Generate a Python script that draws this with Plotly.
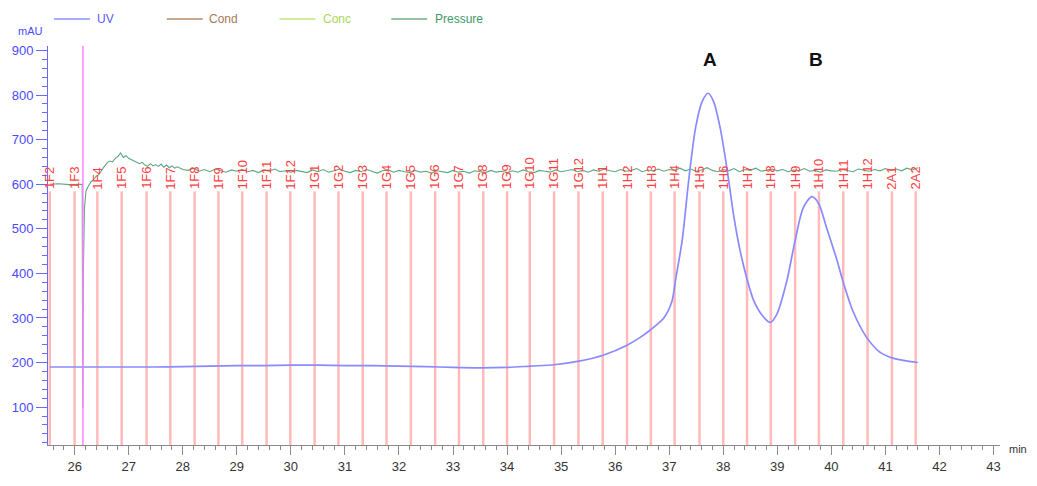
import numpy as np
import plotly.graph_objects as go

# ---------------- data ----------------
uv_time = [25.54, 26.0, 26.5, 27.0, 27.5, 28.0, 28.5, 29.0, 29.5, 30.0, 30.5, 31.0, 31.5, 32.0,
           32.5, 33.0, 33.5, 34.0, 34.44, 34.87, 35.33, 35.79, 36.22, 36.47, 36.65, 36.90,
           37.05, 37.12, 37.24, 37.37, 37.49, 37.61, 37.72, 37.82, 37.94, 38.07, 38.19, 38.31,
           38.44, 38.56, 38.72, 38.87, 38.99, 39.17, 39.33, 39.48, 39.64, 39.76, 39.91, 40.10,
           40.22, 40.40, 40.65, 40.89, 41.14, 41.60]
uv_mau = [190, 190, 190, 190, 190, 191, 192, 193, 193, 194, 194, 193, 193, 192,
          191, 189, 188, 189, 192, 195, 203, 217, 239, 257, 273, 300,
          337, 387, 474, 619, 728, 786, 804, 786, 728, 634, 532, 452,
          387, 340, 306, 290, 308, 380, 474, 547, 572, 558, 503, 431,
          380, 315, 257, 224, 210, 200]

press_time_a = [25.54, 25.7, 25.9, 26.1, 26.14, 26.15, 26.16, 26.18, 26.21, 26.25, 26.3, 26.35,
                26.4, 26.45, 26.5, 26.55, 26.6, 26.65, 26.7, 26.75, 26.8, 26.85, 26.9, 26.95,
                27.0, 27.05, 27.1, 27.15, 27.2, 27.25, 27.3, 27.35, 27.4, 27.45, 27.5, 27.55,
                27.6, 27.65, 27.7, 27.75, 27.8, 27.85, 27.9, 28.0]
press_val_a = [600, 601, 599, 600, 600, 97, 390, 545, 585, 595, 605, 610,
               618, 622, 632, 640, 648, 652, 650, 658, 662, 670, 660, 664,
               658, 655, 652, 650, 646, 649, 643, 640, 646, 641, 644, 640,
               645, 638, 643, 637, 641, 636, 639, 633]
# sampled every 0.1 min from 28.1 to 41.6
press_start, press_step = 28.1, 0.1
press_val_b = [631, 636, 629, 633, 628, 634, 630, 627, 632, 629,
               633, 628, 631, 626, 632, 629, 634, 628, 630, 627,
               631, 629, 626, 632, 628, 633, 627, 630, 634, 629,
               626, 631, 628, 633, 629, 625, 630, 632, 627, 631,
               628, 626, 631, 627, 629, 625, 630, 628, 626, 631,
               627, 629, 625, 630, 628, 626, 631, 627, 629, 626,
               630, 627, 632, 628, 626, 631, 629, 627, 632, 628,
               630, 633, 628, 631, 627, 632, 629, 634, 630, 628,
               633, 629, 631, 635, 628, 632, 630, 634, 629, 633,
               631, 636, 630, 634, 629, 632, 637, 631, 628, 633,
               630, 635, 628, 633, 631, 636, 629, 632, 634, 630,
               633, 628, 632, 630, 635, 629, 631, 627, 632, 630,
               629, 633, 630, 628, 634, 631, 629, 633, 630, 635,
               631, 634, 630, 636, 632, 637]

frac_labels = ["1F2", "1F3", "1F4", "1F5", "1F6", "1F7", "1F8", "1F9", "1F10", "1F11", "1F12",
               "1G1", "1G2", "1G3", "1G4", "1G5", "1G6", "1G7", "1G8", "1G9", "1G10", "1G11", "1G12",
               "1H1", "1H2", "1H3", "1H4", "1H5", "1H6", "1H7", "1H8", "1H9", "1H10", "1H11", "1H12",
               "2A1", "2A2"]
frac_time = [25.54, 26.00, 26.42, 26.87, 27.33, 27.77, 28.22, 28.66, 29.10, 29.55, 29.99,
             30.44, 30.88, 31.33, 31.77, 32.22, 32.67, 33.11, 33.56, 34.00, 34.42, 34.87, 35.32,
             35.77, 36.22, 36.66, 37.10, 37.56, 38.00, 38.44, 38.88, 39.33, 39.77, 40.22, 40.67,
             41.12, 41.56]
frac_label_level = 584

inject_time = 26.153
peak_labels = ["A", "B"]
peak_label_time = [37.746, 39.72]
peak_label_level = 880

x_range = [25.507, 43.12]
y_range = [15, 910]

# ---------------- figure ----------------
press_time_b = list(np.round(press_start + press_step * np.arange(len(press_val_b)), 2))
press_time = press_time_a + press_time_b
press_val = press_val_a + press_val_b

W, H = 1037, 486
ML, MR, MT, MB = 46, 37, 46, 28
pw, ph = W - ML - MR, H - MT - MB
FONT = "Arial, Liberation Sans"

def px(x):
    return (x - ML) / pw

def py(y):
    return (H - MB - y) / ph

fig = go.Figure()

shapes = []
annotations = []

# fraction lines and labels
for t, lab in zip(frac_time, frac_labels):
    shapes.append(dict(type="line", xref="x", yref="y", x0=t, x1=t, y0=y_range[0], y1=frac_label_level,
                       line=dict(color="rgba(255,120,120,0.5)", width=2.5), layer="below"))
    annotations.append(dict(x=t, y=frac_label_level, xref="x", yref="y", text=lab, showarrow=False,
                            textangle=-90, xanchor="center", yanchor="bottom",
                            font=dict(family=FONT, size=13, color="#ff4040")))

# injection mark
shapes.append(dict(type="line", xref="x", yref="paper", x0=inject_time, x1=inject_time, y0=0, y1=1,
                   line=dict(color="#ff80ff", width=1.5)))

fig.add_trace(go.Scatter(x=press_time, y=press_val, mode="lines", name="Pressure",
                         line=dict(color="#5aa882", width=1.1), showlegend=False))
fig.add_trace(go.Scatter(x=uv_time, y=uv_mau, mode="lines", name="UV",
                         line=dict(color="#8a8aff", width=1.7, shape="spline", smoothing=0.8),
                         showlegend=False))

# peak labels
for t, lab in zip(peak_label_time, peak_labels):
    annotations.append(dict(x=t, y=peak_label_level, xref="x", yref="y", text="<b>%s</b>" % lab,
                            showarrow=False, font=dict(family=FONT, size=19, color="#111111")))

# legend (manual)
legend_items = [("UV", "#8f8fff", "#5a5aff", 52, 93),
                ("Cond", "#b48a6a", "#a87a58", 165, 205),
                ("Conc", "#c0e47a", "#a8d85a", 278, 320),
                ("Pressure", "#6ab08a", "#3f9a68", 390, 432)]
for name, lc, tc, x0, tx in legend_items:
    shapes.append(dict(type="line", xref="paper", yref="paper", x0=px(x0), x1=px(x0 + 36),
                       y0=py(18), y1=py(18), line=dict(color=lc, width=1.5)))
    annotations.append(dict(x=px(tx), y=py(18), xref="paper", yref="paper", text=name, showarrow=False,
                            xanchor="left", yanchor="middle",
                            font=dict(family=FONT, size=12, color=tc)))

annotations.append(dict(x=px(28), y=py(31), xref="paper", yref="paper", text="mAU", showarrow=False,
                        xanchor="center", yanchor="middle",
                        font=dict(family=FONT, size=11, color="#4a4aff")))
annotations.append(dict(x=px(1007), y=py(462), xref="paper", yref="paper", text="min", showarrow=False,
                        xanchor="left", yanchor="middle",
                        font=dict(family=FONT, size=11, color="#333333")))

fig.update_layout(
    width=W, height=H,
    margin=dict(l=ML, r=MR, t=MT, b=MB, pad=0),
    paper_bgcolor="white", plot_bgcolor="white",
    shapes=shapes, annotations=annotations,
    showlegend=False,
    font=dict(family=FONT, size=12),
)
fig.update_xaxes(range=x_range, showgrid=False, zeroline=False,
                 showline=True, linecolor="#8a8a8a", linewidth=1,
                 tickmode="linear", tick0=26, dtick=1, ticks="outside", ticklen=9, tickcolor="#8a8a8a",
                 tickfont=dict(size=13, color="#333333"),
                 minor=dict(dtick=0.2, tick0=26, ticks="outside", ticklen=4, tickcolor="#8a8a8a"))
fig.update_yaxes(range=y_range, showgrid=False, zeroline=False,
                 showline=True, linecolor="#6a6aff", linewidth=1,
                 tickmode="linear", tick0=100, dtick=100, ticks="outside", ticklen=11, tickcolor="#6a6aff",
                 tickfont=dict(size=13, color="#4a4aff"),
                 minor=dict(dtick=20, tick0=0, ticks="outside", ticklen=5, tickcolor="#6a6aff"))

fig.write_html("out.html")
